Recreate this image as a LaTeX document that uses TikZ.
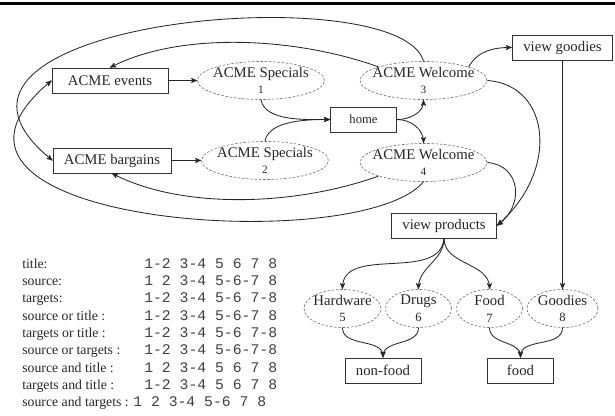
\documentclass[tikz,border=0pt]{standalone}
\usepackage{fontspec}
\setmainfont{Liberation Serif}
\setmonofont{Liberation Mono}
\usetikzlibrary{shapes.geometric, arrows, positioning}

% grouping of the eight pages, set in typewriter
\newcommand{\grp}[1]{{\fontsize{10.5}{12.3}\selectfont\color{black!75}\texttt{#1}}}

\begin{document}
\begin{tikzpicture}[%
	every node/.style={font=\fontsize{10.5}{12}\selectfont, text=black!85},
	>=stealth',              % small filled arrow heads
	]
	% -------------------------------------------------
	% Page and state styles
	\tikzset{
		base/.style={draw=black!80, on grid, align=center, line width=0.6pt},
		page/.style={base, rectangle, minimum height=0.625cm, minimum width=1.65cm, inner xsep=0.275cm, inner ysep=0pt},
		state/.style={base, ellipse, draw=black!55, dash pattern=on 1.8pt off 1.2pt, line width=0.45pt, minimum height=0.95cm, inner xsep=-0.6cm, inner ysep=-1pt},
		big/.style={state, minimum width=3.175cm},
		% -------------------------------------------------
		% Connector styles
		link/.style={->, draw=black!85, line width=0.6pt},
		rule/.style={draw=black, line width=2.1pt}
	}
	\useasboundingbox (0,0) rectangle (15.375,-10.4);
	\draw[rule] (0,-0.0875) -- (15.375,-0.0875);

	\node[page, minimum width=2.9cm] at (2.75,-2.0125) (events) {ACME events};
	\node[big, right=3.775cm of events] (spec1) {ACME Specials\\[-1pt]{\footnotesize 1}};
	\node[big, right=4.0625cm of spec1] (welc3) {ACME Welcome\\[-1pt]{\footnotesize 3}};
	\node[page, above right=0.825cm and 3.475cm of welc3] (vgoodies) {view goodies};
	\node[page, below left=0.975cm and 1.5cm of welc3, font=\fontsize{9}{11}\selectfont] (home) {home};

	\node[page, below right=2cm and 0.05cm of events] (bargains) {ACME bargains};
	\node[big, right=3.825cm of bargains] (spec2) {ACME Specials\\[-1pt]{\footnotesize 2}};
	\node[big, below=2.05cm of welc3] (welc4) {ACME Welcome\\[-1pt]{\footnotesize 4}};
	\node[page, below right=1.575cm and 0.5125cm of welc4] (vproducts) {view products};

	\node[state, minimum width=1.925cm, below left=2.075cm and 2.5375cm of vproducts] (hardware) {Hardware\\{\small 5}};
	\node[state, minimum width=1.65cm, right=1.9cm of hardware] (drugs) {Drugs\\{\small 6}};
	\node[state, minimum width=1.65cm, right=1.775cm of drugs] (food) {Food\\{\small 7}};
	\node[state, minimum width=1.775cm, right=1.825cm of food] (goodies) {Goodies\\{\small 8}};
	\node[page, below right=1.55cm and 1.0125cm of hardware] (nonfood) {non-food};
	\node[page, below right=1.55cm and 0.775cm of food] (foodpage) {food};

	\node[anchor=north west, inner sep=0pt, font=\fontsize{9.8}{12.3}\selectfont] at (0.55,-6.4) (legend) {%
		\begin{tabular}{@{}p{3.05cm}@{}l@{}}
			title: & \grp{1-2 3-4 5 6 7 8}\\
			source: & \grp{1 2 3-4 5-6-7 8}\\
			targets: & \grp{1-2 3-4 5-6 7-8}\\
			source or title : & \grp{1-2 3-4 5-6-7 8}\\
			targets or title : & \grp{1-2 3-4 5-6 7-8}\\
			source or targets : & \grp{1-2 3-4 5-6-7-8}\\
			source and title : & \grp{1 2 3-4 5 6 7 8}\\
			targets and title : & \grp{1-2 3-4 5 6 7 8}\\
			\multicolumn{2}{@{}l@{}}{source and targets : \grp{1 2 3-4 5-6 7 8}}
		\end{tabular}};

	\draw[link] (events) -- (spec1);
	\draw[link] (bargains) -- (spec2);
	\draw[link] (spec1.south) to[out=-80, in=180, looseness=0.8] (home.west);
	\draw[link] (spec2.north) to[out=80, in=180, looseness=0.8] (home.west);
	\draw[link] (home.east) to[out=0, in=-90] (welc3.south);
	\draw[link] (home.east) to[out=0, in=90] (welc4.north);
	\draw[link] (welc3.north west) .. controls +(-2.1,0.75) and +(1.75,0.9) .. (events.north);
	\draw[link] (welc3.north) .. controls +(-0.6,2.15) and +(-4.3,3.5) .. (bargains.west);
	\draw[link] (welc4.south west) .. controls +(-2.1,-0.75) and +(1.75,-0.9) .. (bargains.south);
	\draw[link] (welc4.south) .. controls +(-1.5875,-1.9) and +(-4.3,-3.6) .. (events.west);
	\draw[link] (welc3.north east) to[out=60, in=180] (vgoodies.west);
	\draw[link] (welc3.east) .. controls +(1.575,-0.1125) and +(1.575,1.3875) .. (vproducts.east);
	\draw[link] (welc4.east) .. controls +(0.825,-0.0625) and +(0.7,0.5125) .. (vproducts.east);
	\draw[link] (vgoodies) -- (goodies);
	\draw[link] (vproducts.south) to[out=-95, in=90] (hardware.north);
	\draw[link] (vproducts.south) to[out=-90, in=90] (drugs.north);
	\draw[link] (vproducts.south) to[out=-90, in=90] (food.north);
	\draw[link] (hardware.south) to[out=-90, in=90] (nonfood.north);
	\draw[link] (drugs.south) to[out=-90, in=90] (nonfood.north);
	\draw[link] (food.south) to[out=-90, in=90] (foodpage.north);
	\draw[link] (goodies.south) to[out=-90, in=90] (foodpage.north);

\end{tikzpicture}
\end{document}
